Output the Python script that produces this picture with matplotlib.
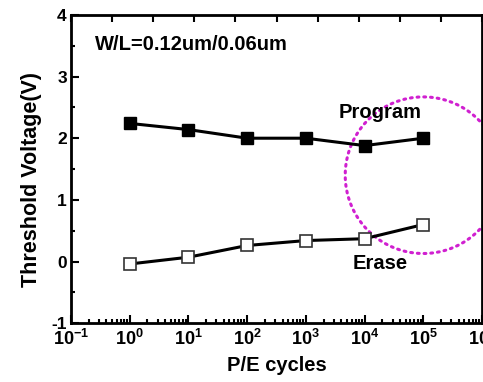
import numpy as np
import matplotlib
matplotlib.use("Agg")
import matplotlib.pyplot as plt
from matplotlib.ticker import LogLocator, MultipleLocator, FixedLocator, NullFormatter

plt.rcParams['font.family'] = ['Liberation Sans', 'DejaVu Sans']
plt.rcParams['font.weight'] = 'bold'
plt.rcParams['axes.unicode_minus'] = False
plt.rcParams['mathtext.fontset'] = 'custom'
plt.rcParams['mathtext.rm'] = 'Liberation Sans:bold'
plt.rcParams['mathtext.bf'] = 'Liberation Sans:bold'
plt.rcParams['mathtext.it'] = 'Liberation Sans:bold'

cycles = [1, 10, 100, 1000, 10000, 100000]
program_v = [2.24, 2.14, 2.00, 2.00, 1.88, 2.00]
erase_v = [-0.04, 0.07, 0.26, 0.34, 0.37, 0.60]
xtick_exps = [-1, 0, 1, 2, 3, 4, 5, 6]
yticks = [-1, 0, 1, 2, 3, 4]

fig = plt.figure(figsize=(4.83, 3.82), dpi=100)
ax = fig.add_axes([0.147, 0.154, 0.851, 0.807])

ax.plot(cycles, program_v, color='black', lw=2.2, marker='s', ms=8.5,
        mfc='black', mec='black', zorder=3)
ax.plot(cycles, erase_v, color='black', lw=2.2, marker='s', ms=8.5,
        mfc='white', mec='#333333', mew=1.2, zorder=3)

# dotted circle highlight
t = np.linspace(0, 2 * np.pi, 400)
cx, cy, rx, ry = 5.0, 1.40, 1.33, 1.27
ax.plot(10 ** (cx + rx * np.cos(t)), cy + ry * np.sin(t), color='#d020d0',
        lw=2.2, ls=(0, (0.6, 1.6)), dash_capstyle='round', zorder=2, clip_on=False)

ax.set_xscale('log')
ax.set_xlim(10 ** -1, 10 ** 6)
ax.set_ylim(-1, 4)
ax.xaxis.set_major_locator(FixedLocator([10.0 ** e for e in xtick_exps]))
ax.set_xticklabels([r'$\mathbf{10^{%d}}$' % e for e in xtick_exps])
ax.xaxis.set_minor_locator(LogLocator(base=10, subs=np.arange(2, 10), numticks=20))
ax.xaxis.set_minor_formatter(NullFormatter())
ax.yaxis.set_major_locator(FixedLocator(yticks))
ax.yaxis.set_minor_locator(MultipleLocator(0.5))

ax.tick_params(which='both', direction='in', top=False, right=False, width=1.5)
ax.tick_params(axis='x', which='major', length=6, labelsize=13, pad=4)
ax.tick_params(axis='y', which='major', length=6, labelsize=12.5, pad=3)
ax.tick_params(which='minor', length=3)
for s in ax.spines.values():
    s.set_linewidth(2)

# top axis with evenly spaced ticks
ax2 = ax.twiny()
ax2.set_xlim(0, 10)
ax2.set_xticks(range(11))
ax2.set_xticklabels([])
ax2.tick_params(direction='in', length=5, width=1.5, top=True)

ax.set_xlabel('P/E cycles', fontsize=14.5, fontweight='bold', labelpad=5)
ax.set_ylabel('Threshold Voltage(V)', fontsize=15.5, fontweight='bold')
ax.yaxis.set_label_coords(-0.07, 0.465)

ax.text(0.058, 0.903, 'W/L=0.12um/0.06um', transform=ax.transAxes,
        fontsize=14.5, fontweight='bold', va='center', ha='left')
ax.text(10 ** 4.26, 2.42, 'Program', fontsize=14.5, fontweight='bold', ha='center', va='center')
ax.text(10 ** 4.26, -0.03, 'Erase', fontsize=14.5, fontweight='bold', ha='center', va='center')

fig.savefig('out.png', dpi=100)
